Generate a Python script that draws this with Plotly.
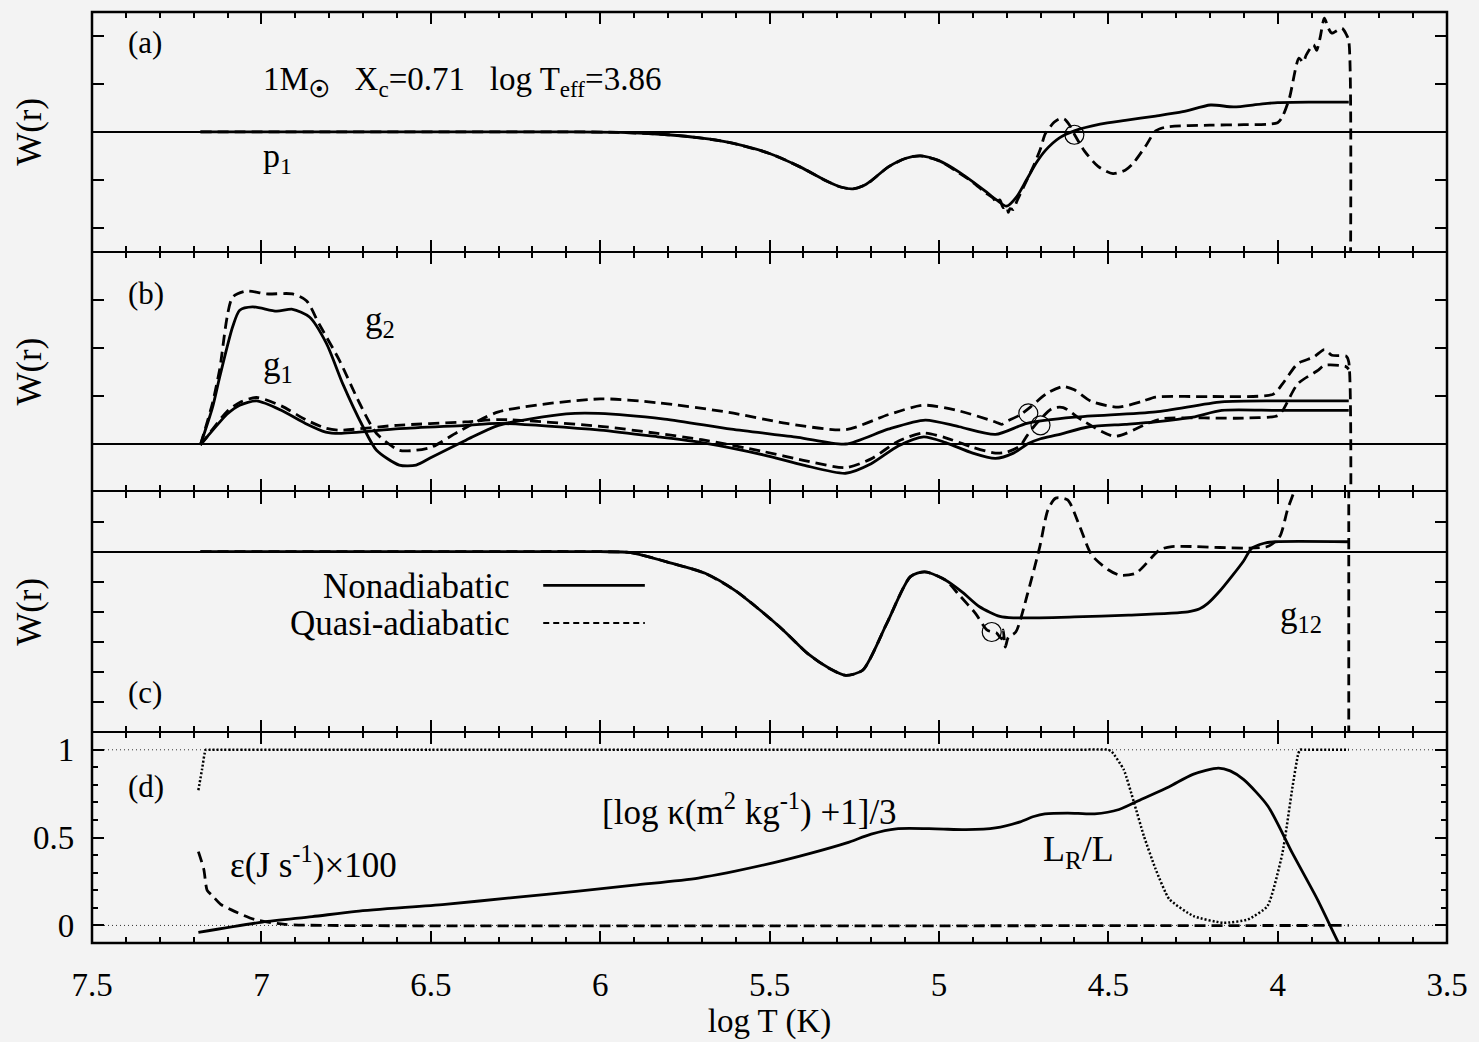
import plotly.graph_objects as go
from plotly.subplots import make_subplots

# ---------------- data (log T in K) ----------------
# Panel (a): p1 mode
a_non_x = [7.18, 6.8, 6.4, 6.1, 5.94, 5.8, 5.7, 5.62, 5.5, 5.41, 5.33, 5.29, 5.254, 5.225, 5.2, 5.149,
           5.097, 5.054, 5.0, 4.94, 4.866, 4.83, 4.80, 4.77, 4.742, 4.71, 4.686, 4.643, 4.60, 4.524,
           4.45, 4.36, 4.28, 4.198, 4.13, 4.05, 4.0, 3.9, 3.79]
a_non_y = [0, 0, 0, 0, -0.01, -0.06, -0.13, -0.22, -0.45, -0.73, -1.03, -1.15, -1.19, -1.13, -1.02,
           -0.73, -0.55, -0.50, -0.60, -0.84, -1.22, -1.42, -1.55, -1.35, -1.01, -0.62, -0.39, -0.12,
           0.02, 0.16, 0.24, 0.33, 0.42, 0.56, 0.52, 0.58, 0.61, 0.62, 0.62]
a_qad_x = [7.18, 6.8, 6.4, 6.1, 5.94, 5.8, 5.7, 5.62, 5.5, 5.41, 5.33, 5.29, 5.254, 5.225, 5.2, 5.149,
           5.097, 5.054, 5.0, 4.94, 4.9, 4.866, 4.84, 4.83, 4.82, 4.81, 4.80, 4.795, 4.79, 4.78, 4.77,
           4.75, 4.72, 4.70, 4.686, 4.66, 4.645, 4.63, 4.615, 4.60, 4.57, 4.53, 4.486, 4.45, 4.427,
           4.39, 4.36, 4.33, 4.2, 4.1, 4.0, 3.985, 3.965, 3.937, 3.925, 3.915, 3.894, 3.885, 3.875,
           3.862, 3.85, 3.84, 3.81, 3.797, 3.79, 3.79, 3.79]
a_qad_y = [0, 0, 0, 0, -0.01, -0.06, -0.13, -0.22, -0.45, -0.73, -1.03, -1.15, -1.19, -1.13, -1.02,
           -0.73, -0.55, -0.50, -0.60, -0.86, -1.05, -1.25, -1.38, -1.48, -1.42, -1.58, -1.55, -1.68,
           -1.60, -1.62, -1.45, -1.15, -0.70, -0.35, -0.04, 0.2, 0.27, 0.27, 0.15, -0.05, -0.4, -0.72,
           -0.87, -0.8, -0.66, -0.3, 0.02, 0.1, 0.14, 0.15, 0.19, 0.33, 0.71, 1.54, 1.45, 1.61, 1.82,
           1.7, 1.95, 2.37, 2.16, 2.06, 2.16, 2.03, 1.9, -10, -30]
a_circ_x = [4.60]
a_circ_y = [-0.06]

# Panel (b): g1 and g2 modes
b_g1_non_x = [7.18, 7.16, 7.10, 7.064, 7.014, 6.94, 6.87, 6.81, 6.77, 6.593, 6.396, 6.3, 6.0, 5.83,
              5.7, 5.516, 5.4, 5.275, 5.2, 5.12, 5.045, 4.98, 4.9, 4.833, 4.78, 4.736, 4.70, 4.65,
              4.557, 4.45, 4.36, 4.25, 4.165, 4.0, 3.79]
b_g1_non_y = [-0.03, 0.14, 0.62, 0.80, 0.89, 0.69, 0.42, 0.24, 0.21, 0.31, 0.38, 0.42, 0.28, 0.14,
              0.02, -0.24, -0.45, -0.62, -0.42, -0.05, 0.14, 0.02, -0.2, -0.31, -0.2, 0.0, 0.10, 0.18,
              0.35, 0.40, 0.45, 0.55, 0.69, 0.69, 0.69]
b_g1_qad_x = [7.18, 7.16, 7.10, 7.06, 7.014, 6.94, 6.87, 6.81, 6.77, 6.6, 6.4, 6.3, 6.0, 5.83, 5.7,
              5.516, 5.4, 5.275, 5.2, 5.12, 5.045, 4.98, 4.9, 4.833, 4.80, 4.76, 4.742, 4.72, 4.666,
              4.633, 4.578, 4.48, 4.383, 4.339, 4.1, 4.0, 3.985, 3.94, 3.88, 3.862, 3.80, 3.79]
b_g1_qad_y = [-0.03, 0.15, 0.68, 0.87, 0.96, 0.78, 0.50, 0.32, 0.28, 0.38, 0.45, 0.50, 0.36, 0.21,
              0.08, -0.17, -0.35, -0.50, -0.32, 0.05, 0.22, 0.12, -0.08, -0.2, -0.18, -0.05, 0.14,
              0.35, 0.73, 0.75, 0.49, 0.15, 0.42, 0.52, 0.53, 0.58, 0.69, 1.25, 1.53, 1.63, 1.61, 1.55]
b_g2_non_x = [7.18, 7.144, 7.123, 7.085, 7.064, 7.026, 6.955, 6.908, 6.858, 6.808, 6.76, 6.70, 6.66,
              6.593, 6.543, 6.496, 6.396, 6.30, 6.10, 6.005, 5.81, 5.613, 5.416, 5.275, 5.15, 5.04,
              4.94, 4.833, 4.74, 4.60, 4.36, 4.165, 4.0, 3.79]
b_g2_non_y = [-0.03, 0.76, 1.39, 2.43, 2.78, 2.85, 2.76, 2.80, 2.64, 2.09, 1.25, 0.35, -0.14, -0.45,
              -0.45, -0.28, 0.07, 0.38, 0.62, 0.63, 0.51, 0.30, 0.13, -0.01, 0.30, 0.49, 0.35, 0.19,
              0.42, 0.55, 0.66, 0.87, 0.89, 0.89]
b_g2_qad_x = [7.18, 7.144, 7.123, 7.085, 7.044, 6.985, 6.908, 6.867, 6.83, 6.77, 6.71, 6.66, 6.593,
              6.543, 6.496, 6.42, 6.30, 6.0, 5.83, 5.62, 5.45, 5.275, 5.15, 5.045, 4.94, 4.833, 4.815,
              4.80, 4.76, 4.73, 4.68, 4.633, 4.60, 4.55, 4.47, 4.40, 4.36, 4.2, 4.013, 3.985, 3.94,
              3.894, 3.862, 3.84, 3.797, 3.79, 3.79, 3.79]
b_g2_qad_y = [-0.03, 0.85, 1.55, 3.05, 3.18, 3.12, 3.12, 2.98, 2.5, 1.74, 0.84, 0.21, -0.14, -0.14,
              -0.07, 0.24, 0.66, 0.93, 0.85, 0.65, 0.42, 0.29, 0.60, 0.80, 0.68, 0.45, 0.40, 0.46,
              0.60, 0.76, 1.05, 1.19, 1.12, 0.88, 0.76, 0.88, 0.97, 0.98, 1.03, 1.25, 1.67, 1.80,
              1.96, 1.84, 1.82, 1.7, -10, -30]
b_circ_x = [4.736, 4.70]
b_circ_y = [0.63, 0.38]

# Panel (c): g12 mode
c_non_x = [7.18, 6.5, 6.0, 5.91, 5.79, 5.69, 5.6, 5.54, 5.46, 5.387, 5.32, 5.275, 5.225, 5.154, 5.084,
           5.042, 4.981, 4.93, 4.88, 4.82, 4.78, 4.6, 4.44, 4.265, 4.23, 4.206, 4.17, 4.136, 4.10,
           4.077, 4.04, 4.006, 3.79]
c_non_y = [0, 0, 0, -0.03, -0.38, -0.72, -1.3, -1.83, -2.6, -3.39, -3.9, -4.11, -3.94, -2.39, -0.83,
           -0.67, -0.94, -1.35, -1.83, -2.15, -2.2, -2.17, -2.11, -2.0, -1.9, -1.72, -1.3, -0.83, -0.3,
           0.11, 0.28, 0.33, 0.33]
c_qad_x = [7.18, 6.5, 6.0, 5.91, 5.79, 5.69, 5.6, 5.54, 5.46, 5.387, 5.32, 5.275, 5.225, 5.154, 5.084,
           5.042, 4.981, 4.94, 4.892, 4.857, 4.83, 4.815, 4.81, 4.804, 4.795, 4.773, 4.738, 4.702,
           4.678, 4.655, 4.62, 4.584, 4.549, 4.50, 4.466, 4.419, 4.348, 4.312, 4.03, 3.994, 3.971,
           3.953, 3.93, 3.85, 3.79, 3.79, 3.79, 3.79]
c_qad_y = [0, 0, 0, -0.03, -0.38, -0.72, -1.3, -1.83, -2.6, -3.39, -3.9, -4.11, -3.94, -2.39, -0.83,
           -0.67, -0.94, -1.44, -2.05, -2.61, -2.7, -2.9, -2.6, -3.17, -2.85, -2.67, -1.39, 0.17,
           1.39, 1.78, 1.72, 0.83, -0.11, -0.6, -0.78, -0.72, 0.06, 0.17, 0.17, 0.5, 1.39, 1.95,
           2.8, 3.5, 3.5, 3.0, -10, -30]
c_circ_x = [4.844]
c_circ_y = [-2.67]

# Panel (d): structure quantities
d_kap_x = [7.186, 6.997, 6.85, 6.72, 6.458, 6.25, 6.064, 5.9, 5.71, 5.49, 5.38, 5.272, 5.2, 5.126,
           5.01, 4.92, 4.833, 4.76, 4.72, 4.687, 4.62, 4.54, 4.468, 4.4, 4.32, 4.25, 4.175, 4.14,
           4.10, 4.029, 3.956, 3.883, 3.82, 3.80]
d_kap_y = [-0.04, 0.019, 0.05, 0.08, 0.12, 0.16, 0.195, 0.23, 0.27, 0.356, 0.41, 0.47, 0.52, 0.55,
           0.55, 0.545, 0.555, 0.59, 0.62, 0.635, 0.64, 0.635, 0.66, 0.72, 0.79, 0.86, 0.896, 0.88,
           0.83, 0.68, 0.41, 0.15, -0.1, -0.17]
d_eps_x = [7.186, 7.17, 7.16, 7.145, 7.12, 7.09, 7.02, 6.93, 6.8, 3.79]
d_eps_y = [0.42, 0.32, 0.20, 0.17, 0.12, 0.09, 0.034, 0.006, 0.0, 0.0]
d_lr_x = [7.186, 7.175, 7.164, 7.15, 6.5, 5.5, 4.6, 4.5, 4.49, 4.454, 4.424, 4.395, 4.36, 4.32,
          4.248, 4.16, 4.088, 4.03, 3.986, 3.956, 3.94, 3.934, 3.92, 3.85, 3.79]
d_lr_y = [0.77, 0.89, 1.0, 1.0, 1.0, 1.0, 1.0, 1.0, 0.99, 0.886, 0.70, 0.51, 0.32, 0.15, 0.053,
          0.015, 0.034, 0.11, 0.41, 0.79, 0.97, 1.0, 1.0, 1.0, 1.0]
d_ref_x = [7.5, 3.5]
d_ref0_y = [0, 0]
d_ref1_y = [1, 1]

x_tickvals = [7.5, 7, 6.5, 6, 5.5, 5, 4.5, 4, 3.5]
x_ticktext = ["7.5", "7", "6.5", "6", "5.5", "5", "4.5", "4", "3.5"]
d_tickvals = [0, 0.5, 1]
d_ticktext = ["0", "0.5", "1"]

# ---------------- figure ----------------
FONT = "Liberation Serif"
BG = "#f3f3f3"
LW = 2.8
DASH = "11px,6px"
SMOOTH = 0.7

fig = make_subplots(rows=4, cols=1, shared_xaxes=True, vertical_spacing=0,
                    row_heights=[240, 240, 241, 211])

def solid(x, y, row):
    fig.add_trace(go.Scatter(x=x, y=y, mode="lines",
                             line=dict(color="black", width=LW, shape="spline", smoothing=SMOOTH),
                             showlegend=False, hoverinfo="skip"), row=row, col=1)

def dashed(x, y, row):
    fig.add_trace(go.Scatter(x=x, y=y, mode="lines",
                             line=dict(color="black", width=LW, dash=DASH, shape="spline",
                                       smoothing=SMOOTH),
                             showlegend=False, hoverinfo="skip"), row=row, col=1)

def circles(x, y, row):
    fig.add_trace(go.Scatter(x=x, y=y, mode="markers",
                             marker=dict(symbol="circle-open", size=19, color="black",
                                         line=dict(color="black", width=1.2)),
                             showlegend=False, hoverinfo="skip"), row=row, col=1)

solid(a_non_x, a_non_y, 1)
dashed(a_qad_x, a_qad_y, 1)
circles(a_circ_x, a_circ_y, 1)

solid(b_g1_non_x, b_g1_non_y, 2)
dashed(b_g1_qad_x, b_g1_qad_y, 2)
solid(b_g2_non_x, b_g2_non_y, 2)
dashed(b_g2_qad_x, b_g2_qad_y, 2)
circles(b_circ_x, b_circ_y, 2)

solid(c_non_x, c_non_y, 3)
dashed(c_qad_x, c_qad_y, 3)
circles(c_circ_x, c_circ_y, 3)

for yy in (d_ref0_y, d_ref1_y):
    fig.add_trace(go.Scatter(x=d_ref_x, y=yy, mode="lines",
                             line=dict(color="#333333", width=1, dash="1px,3px"),
                             showlegend=False, hoverinfo="skip"), row=4, col=1)
fig.add_trace(go.Scatter(x=d_lr_x, y=d_lr_y, mode="lines",
                         line=dict(color="black", width=2.5, dash="2px,2px", shape="spline",
                                   smoothing=0.5),
                         showlegend=False, hoverinfo="skip"), row=4, col=1)
dashed(d_eps_x, d_eps_y, 4)
solid(d_kap_x, d_kap_y, 4)

# axes
AXW = 1.4
for r in range(1, 5):
    fig.update_xaxes(range=[7.5, 3.5], tickmode="array", tickvals=x_tickvals, ticktext=x_ticktext,
                     ticks="inside", ticklen=12, tickwidth=2, tickcolor="black",
                     minor=dict(dtick=0.1, tick0=3.5, ticks="inside", ticklen=6, tickwidth=2,
                                tickcolor="black"),
                     showline=True, linewidth=AXW, linecolor="black", mirror="ticks",
                     showgrid=False, zeroline=False, row=r, col=1)
fig.update_xaxes(showticklabels=True, tickfont=dict(family=FONT, size=33, color="black"),
                 ticklabelstandoff=12,
                 title=dict(text="log T (K)", font=dict(family=FONT, size=33, color="black"),
                            standoff=2), row=4, col=1)

yranges = {1: [-2.5, 2.5], 2: [-1, 4], 3: [-6, 2]}
for r, rg in yranges.items():
    fig.update_yaxes(range=rg, tickmode="linear", tick0=0, dtick=1, ticks="inside", ticklen=12,
                     tickwidth=2, tickcolor="black", showticklabels=False,
                     showline=True, linewidth=AXW, linecolor="black", mirror="ticks",
                     showgrid=False, zeroline=True, zerolinecolor="black", zerolinewidth=1.6,
                     row=r, col=1)
fig.update_yaxes(range=[-0.1, 1.1], tickmode="array", tickvals=d_tickvals, ticktext=d_ticktext,
                 ticks="inside", ticklen=12, tickwidth=2, tickcolor="black",
                 minor=dict(dtick=0.1, tick0=0, ticks="inside", ticklen=6, tickwidth=2,
                            tickcolor="black"),
                 tickfont=dict(family=FONT, size=33, color="black"), ticklabelstandoff=10,
                 showline=True, linewidth=AXW, linecolor="black", mirror="ticks",
                 showgrid=False, zeroline=False, row=4, col=1)

# outer frame
fig.add_shape(type="rect", xref="paper", yref="paper", x0=0, x1=1, y0=0, y1=1,
              line=dict(color="black", width=2.5), fillcolor="rgba(0,0,0,0)", layer="above")

# annotations
def txt(s, x, y, xref, yref, size=34, xanchor="left"):
    fig.add_annotation(text=s, x=x, y=y, xref=xref, yref=yref, showarrow=False,
                       xanchor=xanchor, yanchor="middle",
                       font=dict(family=FONT, size=size, color="black"))

NB = "\u00a0"
txt("1M<sub><b>☉</b></sub>" + NB * 3 + "X<sub>c</sub>=0.71" + NB * 3 + "log T<sub>eff</sub>=3.86",
    7.0, 1.06, "x", "y", size=33)
txt("(a)", 7.40, 1.86, "x", "y", size=31)
txt("p<sub>1</sub>", 7.0, -0.55, "x", "y", size=34)
txt("(b)", 7.40, 3.13, "x2", "y2", size=31)
txt("g<sub>2</sub>", 6.70, 2.55, "x2", "y2", size=35)
txt("g<sub>1</sub>", 7.0, 1.6, "x2", "y2", size=35)
txt("(c)", 7.40, -4.68, "x3", "y3", size=31)
txt("g<sub>12</sub>", 4.0, -2.15, "x3", "y3", size=35)
txt("Nonadiabatic", 6.26, -1.15, "x3", "y3", size=35, xanchor="right")
txt("Quasi-adiabatic", 6.26, -2.38, "x3", "y3", size=35, xanchor="right")
txt("(d)", 7.40, 0.79, "x4", "y4", size=31)
txt("ε(J s<sup>-1</sup>)×100", 7.10, 0.36, "x4", "y4", size=35)
txt("[log κ(m<sup>2</sup> kg<sup>-1</sup>) +1]/3", 6.0, 0.66, "x4", "y4", size=35)
txt("L<sub>R</sub>/L", 4.70, 0.42, "x4", "y4", size=36)

for yd in ["y domain", "y2 domain", "y3 domain"]:
    fig.add_annotation(text="W(r)", x=0, y=0.5, xref="paper", yref=yd, xshift=-62,
                       showarrow=False, textangle=-90, xanchor="center", yanchor="middle",
                       font=dict(family=FONT, size=35, color="black"))

# legend sample lines in panel (c)
fig.add_shape(type="line", xref="x3 domain", yref="y3", x0=0.333, x1=0.408, y0=-1.12, y1=-1.12,
              line=dict(color="black", width=LW))
fig.add_shape(type="line", xref="x3 domain", yref="y3", x0=0.333, x1=0.408, y0=-2.37, y1=-2.37,
              line=dict(color="black", width=2, dash="6px,4px"))

fig.update_layout(width=1479, height=1042, margin=dict(l=92, r=28, t=11, b=99),
                  paper_bgcolor=BG, plot_bgcolor=BG,
                  font=dict(family=FONT, color="black"), showlegend=False)

fig.write_html("out.html")
